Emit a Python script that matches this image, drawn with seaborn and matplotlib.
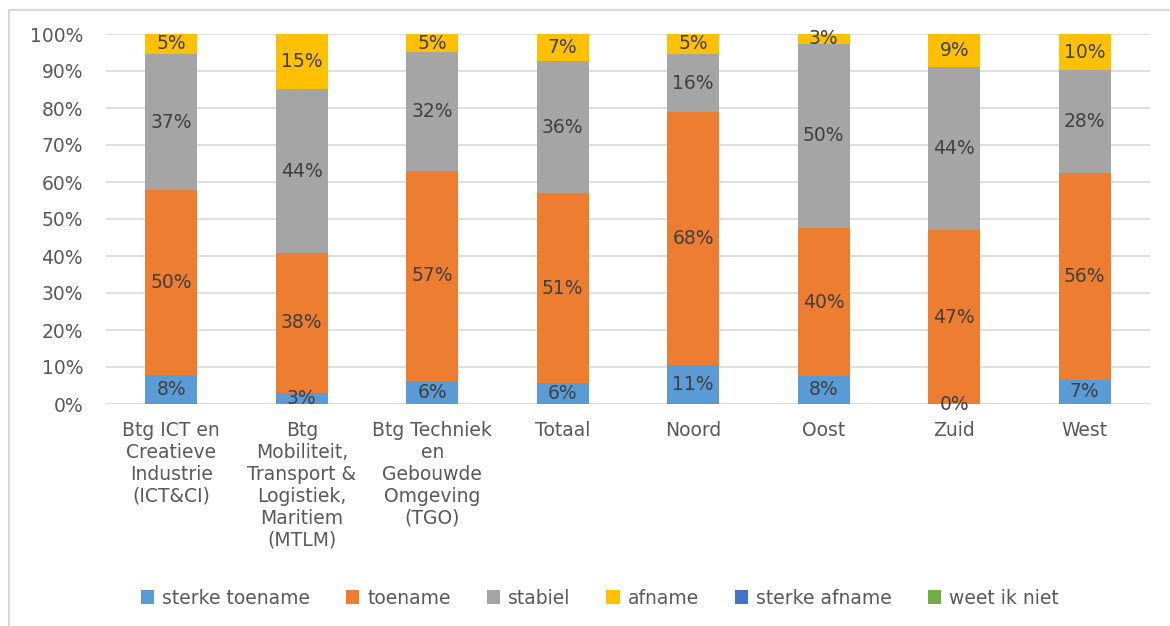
import matplotlib
matplotlib.use("Agg")
import matplotlib.pyplot as plt
from matplotlib.patches import Patch
from matplotlib.lines import Line2D
import numpy as np
import pandas as pd
import seaborn as sns

# Categories (x axis)
categories = [
    "Btg ICT en\nCreatieve\nIndustrie\n(ICT&CI)",
    "Btg\nMobiliteit,\nTransport &\nLogistiek,\nMaritiem\n(MTLM)",
    "Btg Techniek\nen\nGebouwde\nOmgeving\n(TGO)",
    "Totaal",
    "Noord",
    "Oost",
    "Zuid",
    "West",
]

# Shares per answer (percent)
sterke_toename = [7.8, 3.0, 6.2, 5.7, 10.6, 7.6, 0.0, 6.6]
toename = [50.0, 37.8, 56.8, 51.3, 68.3, 39.9, 47.0, 55.8]
stabiel = [36.8, 44.3, 32.1, 35.7, 15.7, 49.9, 44.1, 27.8]
afname = [5.4, 14.9, 4.9, 7.3, 5.4, 2.6, 8.9, 9.8]
sterke_afname = [0, 0, 0, 0, 0, 0, 0, 0]
weet_ik_niet = [0, 0, 0, 0, 0, 0, 0, 0]

series_names = ["sterke toename", "toename", "stabiel", "afname",
                "sterke afname", "weet ik niet"]
series_values = [sterke_toename, toename, stabiel, afname,
                 sterke_afname, weet_ik_niet]
series_colors = ["#5B9BD5", "#ED7D31", "#A5A5A5", "#FFC000",
                 "#4472C4", "#70AD47"]

FONT = ["DejaVu Sans"]
FS = 13.5
TICK_COLOR = "#595959"
LABEL_COLOR = "#404040"

sns.set_theme(style="white")
plt.rcParams["font.family"] = FONT

fig = plt.figure(figsize=(11.70, 6.26), dpi=100)
ax = fig.add_axes([106 / 1170, 1 - 404 / 626, (1150 - 106) / 1170, (404 - 34) / 626])

df = pd.DataFrame({"categorie": categories})
for name, vals in zip(series_names, series_values):
    df[name] = vals

# Stacked bars: cumulative totals drawn from the top series down
cum = np.cumsum(np.array(series_values[:4]), axis=0)
for i in range(3, -1, -1):
    df["_top"] = cum[i]
    sns.barplot(data=df, x="categorie", y="_top", color=series_colors[i],
                width=0.4, saturation=1, ax=ax, order=categories,
                linewidth=0, zorder=3)

# Segment labels
for i in range(4):
    bottoms = cum[i] - np.array(series_values[i])
    for j, v in enumerate(series_values[i]):
        y = bottoms[j] + v / 2
        ax.text(j, y, f"{v:.0f}%", ha="center", va="center",
                fontsize=FS, color=LABEL_COLOR, zorder=5)

ax.set_ylim(0, 100)
ax.set_xlim(-0.5, len(categories) - 0.5)
ax.set_yticks(np.arange(0, 101, 10))
ax.set_yticklabels([f"{t}%" for t in range(0, 101, 10)])
ax.yaxis.grid(True, color="#D9D9D9", linewidth=1.2, zorder=0)
ax.set_axisbelow(True)
ax.set_xlabel("")
ax.set_ylabel("")
for s in ax.spines.values():
    s.set_visible(False)
ax.axhline(0, color="#D9D9D9", linewidth=1.2, zorder=1)
ax.tick_params(axis="y", length=0, pad=16.5, labelsize=FS, labelcolor=TICK_COLOR)
ax.tick_params(axis="x", length=0, pad=12, labelsize=FS, labelcolor=TICK_COLOR)
for lbl in ax.get_xticklabels():
    lbl.set_linespacing(1.2)
    lbl.set_verticalalignment("top")

# Legend
handles = [Patch(facecolor=c, edgecolor="none") for c in series_colors]
fig.legend(handles, series_names, loc="center", bbox_to_anchor=(600 / 1170, 1 - 598 / 626),
           ncol=6, frameon=False, fontsize=FS, labelcolor=TICK_COLOR,
           handlelength=0.7, handleheight=0.7, handletextpad=0.45,
           columnspacing=1.9)

# Chart frame (left and top edges)
fig.add_artist(Line2D([9 / 1170, 9 / 1170], [0, 1 - 10 / 626], transform=fig.transFigure,
                      color="#D9D9D9", linewidth=1.5))
fig.add_artist(Line2D([9 / 1170, 1], [1 - 10 / 626, 1 - 10 / 626], transform=fig.transFigure,
                      color="#D9D9D9", linewidth=1.5))

fig.savefig("out.png", dpi=100, facecolor="white")
